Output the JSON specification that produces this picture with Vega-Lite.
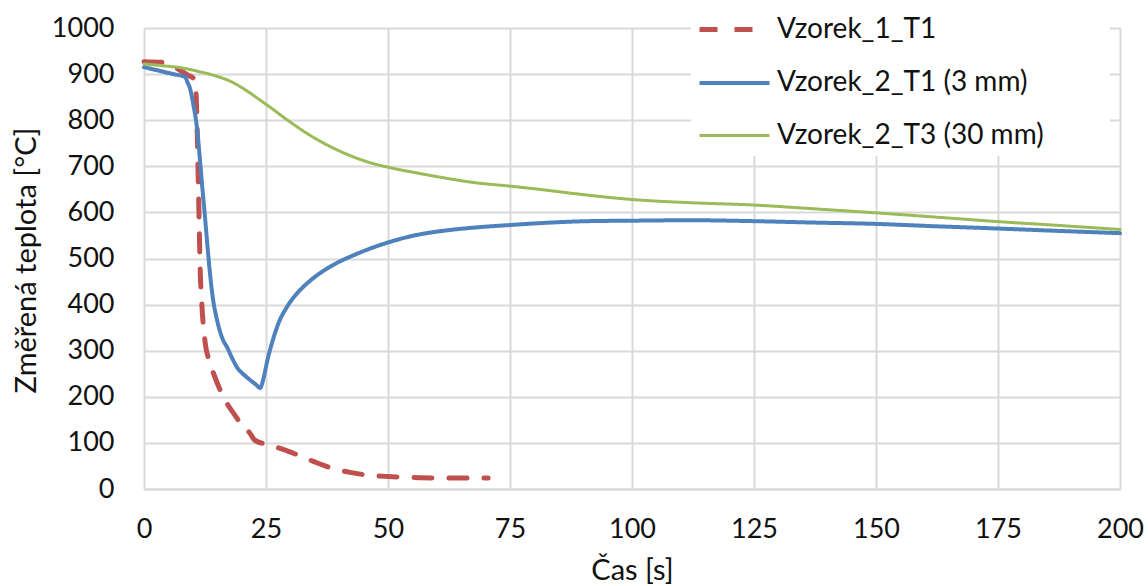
{
  "$schema": "https://vega.github.io/schema/vega-lite/v6.json",
  "autosize": {"type": "none"},
  "padding": {"left": 144, "top": 28, "right": 28, "bottom": 97},
  "width": 976,
  "height": 461,
  "background": "white",
  "config": {
    "view": {"stroke": null},
    "font": "Lato",
    "axis": {"labelFont": "Lato", "titleFont": "Lato", "labelColor": "#111111", "titleColor": "#111111", "titleFontWeight": "normal", "gridColor": "#d9d9d9", "gridWidth": 2, "ticks": false, "labelFlush": false},
    "legend": {"labelFont": "Lato", "labelColor": "#111111"}
  },
  "data": {
    "values": [
      {"series": "Vzorek_1_T1", "t": 0, "T": 927},
      {"series": "Vzorek_1_T1", "t": 4.3, "T": 925},
      {"series": "Vzorek_1_T1", "t": 7.4, "T": 908},
      {"series": "Vzorek_1_T1", "t": 9, "T": 898},
      {"series": "Vzorek_1_T1", "t": 10.4, "T": 888},
      {"series": "Vzorek_1_T1", "t": 10.7, "T": 850},
      {"series": "Vzorek_1_T1", "t": 10.9, "T": 780},
      {"series": "Vzorek_1_T1", "t": 11.1, "T": 680},
      {"series": "Vzorek_1_T1", "t": 11.3, "T": 580},
      {"series": "Vzorek_1_T1", "t": 11.5, "T": 480},
      {"series": "Vzorek_1_T1", "t": 11.8, "T": 410},
      {"series": "Vzorek_1_T1", "t": 12.5, "T": 320},
      {"series": "Vzorek_1_T1", "t": 13.3, "T": 280},
      {"series": "Vzorek_1_T1", "t": 14, "T": 258},
      {"series": "Vzorek_1_T1", "t": 15, "T": 230},
      {"series": "Vzorek_1_T1", "t": 16.5, "T": 195},
      {"series": "Vzorek_1_T1", "t": 18.3, "T": 165},
      {"series": "Vzorek_1_T1", "t": 20, "T": 140},
      {"series": "Vzorek_1_T1", "t": 21.7, "T": 121},
      {"series": "Vzorek_1_T1", "t": 22.7, "T": 106},
      {"series": "Vzorek_1_T1", "t": 25, "T": 97},
      {"series": "Vzorek_1_T1", "t": 27.9, "T": 88},
      {"series": "Vzorek_1_T1", "t": 31, "T": 76},
      {"series": "Vzorek_1_T1", "t": 34.7, "T": 60},
      {"series": "Vzorek_1_T1", "t": 38, "T": 47},
      {"series": "Vzorek_1_T1", "t": 42.2, "T": 36},
      {"series": "Vzorek_1_T1", "t": 46, "T": 30},
      {"series": "Vzorek_1_T1", "t": 50, "T": 27},
      {"series": "Vzorek_1_T1", "t": 55, "T": 25},
      {"series": "Vzorek_1_T1", "t": 60, "T": 24},
      {"series": "Vzorek_1_T1", "t": 65, "T": 24},
      {"series": "Vzorek_1_T1", "t": 70.5, "T": 24},

      {"series": "Vzorek_2_T1 (3 mm)", "t": 0, "T": 915},
      {"series": "Vzorek_2_T1 (3 mm)", "t": 2, "T": 910},
      {"series": "Vzorek_2_T1 (3 mm)", "t": 4, "T": 905},
      {"series": "Vzorek_2_T1 (3 mm)", "t": 6, "T": 900},
      {"series": "Vzorek_2_T1 (3 mm)", "t": 8.4, "T": 894},
      {"series": "Vzorek_2_T1 (3 mm)", "t": 9, "T": 880},
      {"series": "Vzorek_2_T1 (3 mm)", "t": 9.4, "T": 870},
      {"series": "Vzorek_2_T1 (3 mm)", "t": 10, "T": 840},
      {"series": "Vzorek_2_T1 (3 mm)", "t": 10.9, "T": 779},
      {"series": "Vzorek_2_T1 (3 mm)", "t": 11.5, "T": 710},
      {"series": "Vzorek_2_T1 (3 mm)", "t": 11.9, "T": 660},
      {"series": "Vzorek_2_T1 (3 mm)", "t": 12.5, "T": 590},
      {"series": "Vzorek_2_T1 (3 mm)", "t": 12.9, "T": 540},
      {"series": "Vzorek_2_T1 (3 mm)", "t": 13.5, "T": 470},
      {"series": "Vzorek_2_T1 (3 mm)", "t": 14.1, "T": 415},
      {"series": "Vzorek_2_T1 (3 mm)", "t": 15, "T": 365},
      {"series": "Vzorek_2_T1 (3 mm)", "t": 16.2, "T": 323},
      {"series": "Vzorek_2_T1 (3 mm)", "t": 17, "T": 308},
      {"series": "Vzorek_2_T1 (3 mm)", "t": 18, "T": 285},
      {"series": "Vzorek_2_T1 (3 mm)", "t": 19, "T": 265},
      {"series": "Vzorek_2_T1 (3 mm)", "t": 21, "T": 243},
      {"series": "Vzorek_2_T1 (3 mm)", "t": 23, "T": 226},
      {"series": "Vzorek_2_T1 (3 mm)", "t": 23.8, "T": 219},
      {"series": "Vzorek_2_T1 (3 mm)", "t": 24.4, "T": 236},
      {"series": "Vzorek_2_T1 (3 mm)", "t": 25.3, "T": 280},
      {"series": "Vzorek_2_T1 (3 mm)", "t": 26.4, "T": 323},
      {"series": "Vzorek_2_T1 (3 mm)", "t": 27.5, "T": 358},
      {"series": "Vzorek_2_T1 (3 mm)", "t": 29.3, "T": 395},
      {"series": "Vzorek_2_T1 (3 mm)", "t": 31, "T": 420},
      {"series": "Vzorek_2_T1 (3 mm)", "t": 32.6, "T": 438},
      {"series": "Vzorek_2_T1 (3 mm)", "t": 35, "T": 460},
      {"series": "Vzorek_2_T1 (3 mm)", "t": 38.1, "T": 482},
      {"series": "Vzorek_2_T1 (3 mm)", "t": 43.6, "T": 510},
      {"series": "Vzorek_2_T1 (3 mm)", "t": 49.8, "T": 534},
      {"series": "Vzorek_2_T1 (3 mm)", "t": 55, "T": 549},
      {"series": "Vzorek_2_T1 (3 mm)", "t": 62, "T": 561},
      {"series": "Vzorek_2_T1 (3 mm)", "t": 68.8, "T": 568},
      {"series": "Vzorek_2_T1 (3 mm)", "t": 75.6, "T": 573},
      {"series": "Vzorek_2_T1 (3 mm)", "t": 80, "T": 576},
      {"series": "Vzorek_2_T1 (3 mm)", "t": 91, "T": 581},
      {"series": "Vzorek_2_T1 (3 mm)", "t": 100, "T": 582},
      {"series": "Vzorek_2_T1 (3 mm)", "t": 112, "T": 583},
      {"series": "Vzorek_2_T1 (3 mm)", "t": 125, "T": 581},
      {"series": "Vzorek_2_T1 (3 mm)", "t": 137, "T": 578},
      {"series": "Vzorek_2_T1 (3 mm)", "t": 150, "T": 575},
      {"series": "Vzorek_2_T1 (3 mm)", "t": 162, "T": 570},
      {"series": "Vzorek_2_T1 (3 mm)", "t": 175, "T": 565},
      {"series": "Vzorek_2_T1 (3 mm)", "t": 187, "T": 560},
      {"series": "Vzorek_2_T1 (3 mm)", "t": 200, "T": 555},

      {"series": "Vzorek_2_T3 (30 mm)", "t": 0, "T": 922},
      {"series": "Vzorek_2_T3 (30 mm)", "t": 4, "T": 918},
      {"series": "Vzorek_2_T3 (30 mm)", "t": 8, "T": 913},
      {"series": "Vzorek_2_T3 (30 mm)", "t": 11, "T": 906},
      {"series": "Vzorek_2_T3 (30 mm)", "t": 15, "T": 895},
      {"series": "Vzorek_2_T3 (30 mm)", "t": 18, "T": 883},
      {"series": "Vzorek_2_T3 (30 mm)", "t": 20, "T": 871},
      {"series": "Vzorek_2_T3 (30 mm)", "t": 22, "T": 857},
      {"series": "Vzorek_2_T3 (30 mm)", "t": 24, "T": 842},
      {"series": "Vzorek_2_T3 (30 mm)", "t": 26, "T": 827},
      {"series": "Vzorek_2_T3 (30 mm)", "t": 28, "T": 811},
      {"series": "Vzorek_2_T3 (30 mm)", "t": 30.5, "T": 792},
      {"series": "Vzorek_2_T3 (30 mm)", "t": 33, "T": 774},
      {"series": "Vzorek_2_T3 (30 mm)", "t": 36, "T": 755},
      {"series": "Vzorek_2_T3 (30 mm)", "t": 38.5, "T": 741},
      {"series": "Vzorek_2_T3 (30 mm)", "t": 41.6, "T": 726},
      {"series": "Vzorek_2_T3 (30 mm)", "t": 44, "T": 716},
      {"series": "Vzorek_2_T3 (30 mm)", "t": 46.9, "T": 706},
      {"series": "Vzorek_2_T3 (30 mm)", "t": 50, "T": 698},
      {"series": "Vzorek_2_T3 (30 mm)", "t": 57.2, "T": 683},
      {"series": "Vzorek_2_T3 (30 mm)", "t": 62, "T": 674},
      {"series": "Vzorek_2_T3 (30 mm)", "t": 67.4, "T": 665},
      {"series": "Vzorek_2_T3 (30 mm)", "t": 75, "T": 657},
      {"series": "Vzorek_2_T3 (30 mm)", "t": 81, "T": 650},
      {"series": "Vzorek_2_T3 (30 mm)", "t": 88, "T": 641},
      {"series": "Vzorek_2_T3 (30 mm)", "t": 100, "T": 628},
      {"series": "Vzorek_2_T3 (30 mm)", "t": 112, "T": 621},
      {"series": "Vzorek_2_T3 (30 mm)", "t": 125, "T": 616},
      {"series": "Vzorek_2_T3 (30 mm)", "t": 137, "T": 608},
      {"series": "Vzorek_2_T3 (30 mm)", "t": 150, "T": 599},
      {"series": "Vzorek_2_T3 (30 mm)", "t": 162, "T": 590},
      {"series": "Vzorek_2_T3 (30 mm)", "t": 175, "T": 580},
      {"series": "Vzorek_2_T3 (30 mm)", "t": 187, "T": 572},
      {"series": "Vzorek_2_T3 (30 mm)", "t": 200, "T": 563}
    ]
  },
  "mark": {"type": "line", "strokeCap": "round", "strokeJoin": "round", "interpolate": "monotone"},
  "encoding": {
    "x": {
      "field": "t", "type": "quantitative", "title": "Čas [s]",
      "scale": {"domain": [0, 200], "nice": false},
      "axis": {"values": [0, 25, 50, 75, 100, 125, 150, 175, 200], "labelFontSize": 27, "labelPadding": 27, "domain": true, "domainColor": "#d9d9d9", "domainWidth": 2, "titleFontSize": 29, "titleX": 488, "titleY": 81, "titleBaseline": "middle", "titleAlign": "center"}
    },
    "y": {
      "field": "T", "type": "quantitative", "title": "Změřená teplota [°C]",
      "scale": {"domain": [0, 1000], "nice": false},
      "axis": {"values": [0, 100, 200, 300, 400, 500, 600, 700, 800, 900, 1000], "format": "d", "labelFontSize": 27, "labelPadding": 30, "domain": false, "titleFontSize": 29, "titleAngle": 270, "titleX": -118, "titleY": 232, "titleBaseline": "middle", "titleAlign": "center"}
    },
    "order": {"field": "t", "type": "quantitative"},
    "color": {
      "field": "series", "type": "nominal",
      "scale": {"domain": ["Vzorek_1_T1", "Vzorek_2_T1 (3 mm)", "Vzorek_2_T3 (30 mm)"], "range": ["#c0504d", "#4f81bd", "#9bbb59"]},
      "legend": {"orient": "none", "legendX": 547, "legendY": -42, "title": " ", "titleOrient": "right", "titlePadding": 60, "fillColor": "white", "padding": 6, "symbolType": "stroke", "symbolSize": 4900, "labelFontSize": 28, "labelOffset": 5, "rowPadding": 2, "labelLimit": 400}
    },
    "strokeDash": {
      "field": "series", "type": "nominal",
      "scale": {"domain": ["Vzorek_1_T1", "Vzorek_2_T1 (3 mm)", "Vzorek_2_T3 (30 mm)"], "range": [[18, 17], [1, 0], [1, 0]]}
    },
    "strokeWidth": {
      "field": "series", "type": "nominal",
      "scale": {"domain": ["Vzorek_1_T1", "Vzorek_2_T1 (3 mm)", "Vzorek_2_T3 (30 mm)"], "range": [5, 3, 3]}
    }
  }
}
